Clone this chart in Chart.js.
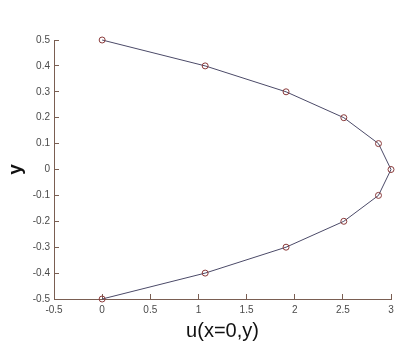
<!DOCTYPE html>
<html>
<head>
<meta charset="utf-8">
<script src="https://cdn.jsdelivr.net/npm/chart.js@4/dist/chart.umd.min.js"></script>
<style>
  html, body { margin: 0; padding: 0; background: #fff; }
  #wrap { width: 396px; height: 343px; }
</style>
</head>
<body>
<div id="wrap"><canvas id="c"></canvas></div>
<script>
// profile values
const yValues = [0.5, 0.4, 0.3, 0.2, 0.1, 0, -0.1, -0.2, -0.3, -0.4, -0.5];
const uValues = [0, 1.07, 1.91, 2.51, 2.87, 3, 2.87, 2.51, 1.91, 1.07, 0];

const xTicks = [-0.5, 0, 0.5, 1, 1.5, 2, 2.5, 3];
const yTicks = [-0.5, -0.4, -0.3, -0.2, -0.1, 0, 0.1, 0.2, 0.3, 0.4, 0.5];

const axisColor = '#7a5e52';
const labelColor = '#4a4a4a';

const points = uValues.map((u, i) => ({ x: u, y: yValues[i] }));

// negative tickLength -> ticks point into the plot, like matlab
const axisGrid = { display: true, drawOnChartArea: false, drawTicks: true, tickLength: -5, color: axisColor };

new Chart(document.getElementById('c'), {
  type: 'scatter',
  data: {
    datasets: [{
      data: points,
      showLine: true,
      clip: false,
      borderColor: '#4b4a68',
      borderWidth: 1,
      pointRadius: 3,
      pointBorderColor: '#8a3a3a',
      pointBackgroundColor: 'rgba(0,0,0,0)',
      pointBorderWidth: 1
    }]
  },
  options: {
    responsive: true,
    maintainAspectRatio: false,
    animation: false,
    layout: { padding: { top: 40, right: 5, left: 4, bottom: 0 } },
    plugins: { legend: { display: false }, tooltip: { enabled: false } },
    scales: {
      x: {
        type: 'linear',
        min: -0.5, max: 3,
        afterBuildTicks: s => { s.ticks = xTicks.map(v => ({ value: v })); },
        afterFit: s => { s.height = 44; s.paddingLeft = 0; s.paddingRight = 0; },
        grid: axisGrid,
        border: { display: true, color: axisColor, width: 1 },
        ticks: {
          color: labelColor, padding: 10, maxRotation: 0,
          font: { family: 'Liberation Sans, Arial', size: 10 },
          callback: v => String(v)
        },
        title: {
          display: true, text: 'u(x=0,y)', color: '#111',
          font: { family: 'Liberation Sans, Arial', size: 20 },
          padding: { top: 2, bottom: 0 }
        }
      },
      y: {
        type: 'linear',
        min: -0.5, max: 0.5,
        afterBuildTicks: s => { s.ticks = yTicks.map(v => ({ value: v })); },
        afterFit: s => { s.width = 50; s.paddingTop = 0; s.paddingBottom = 0; },
        grid: axisGrid,
        border: { display: true, color: axisColor, width: 1 },
        ticks: {
          color: labelColor, padding: 9,
          font: { family: 'Liberation Sans, Arial', size: 10 },
          callback: v => String(v)
        },
        title: {
          display: true, text: 'y', color: '#111',
          font: { family: 'Liberation Sans, Arial', size: 19, weight: 'bold' },
          padding: { top: 0, bottom: 0 }
        }
      }
    }
  }
});
</script>
</body>
</html>
